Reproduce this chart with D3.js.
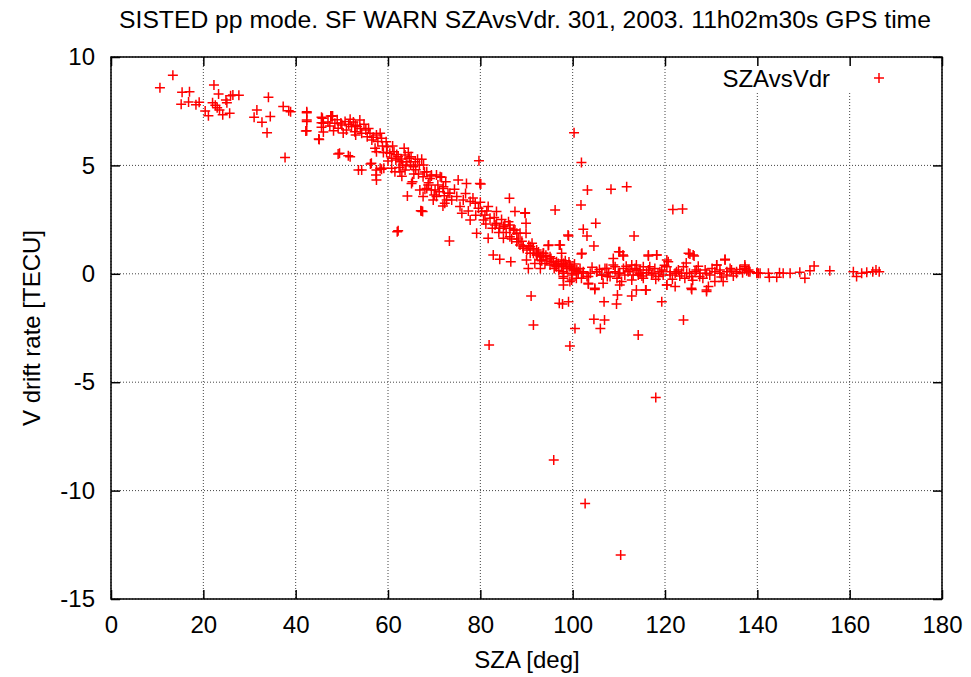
<!DOCTYPE html>
<html>
<head>
<meta charset="utf-8">
<script src="https://cdn.jsdelivr.net/npm/d3@7"></script>
<style>
  body { margin: 0; background: #fff; }
  text { font-family: "Liberation Sans", Arial, sans-serif; }
</style>
</head>
<body>
<div id="canvas"></div>
<script>
"use strict"

// Ticks on the axes
let xTicks = [0, 20, 40, 60, 80, 100, 120, 140, 160, 180];
let yTicks = [-15, -10, -5, 0, 5, 10];

// SZA [deg] vs V drift rate [TECU]
let szaVsVdr = [
    [10.6, 8.58], [13.4, 9.16], [15.4, 8.37], [17.0, 8.40], [15.2, 7.82], [16.8, 7.92],
    [18.4, 7.80], [19.1, 7.91], [20.4, 7.51], [21.1, 7.29], [22.3, 8.71], [23.3, 8.29],
    [22.0, 7.89], [22.6, 7.77], [23.0, 7.66], [23.5, 7.56], [24.2, 7.34], [25.7, 7.40],
    [24.9, 8.02], [25.1, 7.89], [25.9, 8.21], [26.4, 8.25], [27.7, 8.23], [34.1, 8.14],
    [31.6, 7.56], [31.0, 7.22], [32.7, 6.99], [34.5, 7.26], [33.8, 6.51], [37.3, 7.72],
    [38.5, 7.52], [38.9, 7.48], [37.7, 5.37],
    [42.4, 7.43], [42.4, 7.02], [42.2, 6.59], [45.1, 6.20], [45.8, 7.17], [46.0, 6.94],
    [46.0, 6.54], [47.8, 7.28], [47.4, 6.82], [48.5, 6.94], [49.2, 6.71], [50.0, 6.86],
    [50.7, 7.02], [51.0, 6.63], [51.8, 7.13], [52.1, 6.79], [52.8, 6.55], [53.9, 7.09],
    [53.3, 6.79], [54.3, 6.48], [55.2, 6.63], [55.5, 6.32], [56.1, 6.48], [56.5, 6.17],
    [57.5, 6.40], [58.3, 6.48], [58.6, 6.25], [57.2, 5.79], [57.5, 5.63], [49.5, 5.56],
    [51.8, 5.40], [53.6, 4.79], [54.3, 4.79], [56.2, 5.06], [57.5, 4.79], [57.4, 4.56],
    [57.5, 4.33], [58.3, 4.87], [59.1, 4.87], [59.6, 6.09], [59.8, 5.86], [59.7, 5.59],
    [60.4, 5.56], [60.8, 5.33], [61.3, 5.63], [61.7, 5.25], [62.2, 5.40], [62.6, 5.17],
    [63.5, 5.79], [63.7, 5.48], [63.2, 5.02], [64.1, 5.17], [64.6, 5.33], [64.9, 5.02],
    [65.5, 4.94], [65.9, 5.17], [66.4, 5.28], [66.8, 5.02], [67.3, 5.28], [67.7, 5.02],
    [60.8, 4.87], [61.5, 4.71], [62.6, 4.71], [63.7, 4.79], [65.3, 4.25], [64.2, 3.59],
    [67.3, 2.90], [62.0, 1.94], [68.4, 4.71], [69.1, 4.40], [69.4, 4.51], [70.5, 4.56],
    [71.6, 4.45], [66.9, 3.87], [68.0, 3.90], [68.7, 4.10], [69.4, 3.87], [67.6, 3.56],
    [70.0, 3.64], [70.5, 3.56], [71.1, 3.79], [71.9, 3.94], [72.5, 4.25], [71.9, 3.13],
    [72.7, 3.40], [73.0, 3.71],
    [42.4, 7.48], [42.4, 7.09], [42.4, 6.60], [45.0, 6.22], [45.6, 7.22], [45.6, 6.97],
    [45.6, 6.76], [47.6, 7.28], [49.2, 5.53], [51.4, 5.45], [48.0, 7.28],
    [56.4, 5.10], [58.6, 4.82], [65.1, 4.17], [67.1, 2.91], [62.2, 1.99],
    [47.0, 7.00], [48.2, 6.60], [49.0, 7.10], [50.3, 6.50], [51.5, 6.90], [52.5, 7.00],
    [53.0, 6.40], [54.0, 6.70], [54.8, 6.90], [55.8, 6.70], [56.8, 6.30], [57.8, 6.10],
    [58.8, 5.90], [49.8, 6.95], [52.9, 6.85],
    [59.0, 5.60], [60.0, 5.20], [61.0, 5.90], [61.9, 5.50], [62.9, 5.30], [63.9, 5.00],
    [64.4, 5.60], [65.0, 5.40], [66.0, 4.80], [66.6, 4.60], [67.9, 4.70], [65.6, 4.60],
    [62.4, 4.90], [63.0, 4.50],
    [67.6, 4.48], [69.4, 4.56], [71.3, 4.48], [68.4, 3.94], [70.2, 3.87], [72.0, 4.02],
    [73.4, 3.71], [69.8, 3.40], [72.3, 3.25], [67.5, 2.87], [75.2, 4.33], [77.0, 4.17],
    [79.9, 4.17], [74.9, 3.56], [76.3, 3.40], [77.8, 3.33], [76.0, 2.79], [77.8, 2.48],
    [78.9, 3.25], [79.6, 3.02], [80.3, 2.87], [81.0, 2.71], [80.7, 2.48], [81.7, 3.10],
    [82.1, 2.56], [83.5, 2.87], [83.2, 2.25], [84.2, 2.10], [85.3, 2.25], [86.1, 2.40],
    [86.4, 2.10], [87.2, 2.02], [87.9, 1.87], [86.3, 3.48], [87.5, 2.87], [89.7, 2.79],
    [89.9, 2.33], [89.9, 1.87], [85.0, 1.64], [86.4, 1.71], [87.9, 1.48], [88.6, 1.33],
    [89.3, 1.18], [90.1, 1.10], [91.2, 1.41], [91.5, 0.95], [92.3, 0.87], [93.0, 0.79],
    [93.7, 0.95], [94.8, 1.33], [94.4, 0.64], [95.5, 0.56], [96.2, 0.41], [96.9, 0.48],
    [97.6, 0.41], [97.3, 1.33], [99.0, 1.79], [98.7, 0.33], [99.8, 0.25], [100.9, 0.18],
    [102.3, 0.02], [103.1, -0.13], [98.0, -0.13], [99.8, -0.29], [82.8, 0.87], [84.2, 0.67],
    [86.6, 0.56], [90.4, 0.25], [93.0, 0.25], [81.7, 1.64], [79.2, 1.87], [73.3, 1.51],
    [79.7, 5.22], [80.1, 4.14], [83.5, 2.33], [85.0, 2.17], [86.4, 2.25], [87.5, 2.02],
    [88.6, 1.87], [90.8, 1.25], [92.2, 1.10], [93.6, 0.95], [95.1, 0.79], [96.5, 0.56],
    [98.0, 0.48], [99.4, 0.33],
    [68.8, 4.20], [70.8, 4.10], [72.2, 3.60], [73.8, 3.40], [74.4, 3.90], [75.6, 3.10],
    [76.8, 3.70], [77.4, 2.90], [78.4, 3.50], [79.0, 2.70], [80.0, 3.30], [81.2, 2.30],
    [82.6, 2.10], [81.4, 2.90], [84.0, 1.90], [85.6, 1.90], [86.8, 1.60], [88.2, 1.60],
    [83.0, 2.60], [84.6, 2.50],
    [89.0, 1.50], [90.5, 1.30], [91.5, 1.15], [92.6, 1.00], [93.3, 0.60], [94.2, 0.85],
    [95.3, 0.70], [96.0, 0.25], [97.0, 0.15], [98.4, 0.60], [99.2, 0.55], [100.4, 0.45],
    [100.3, 6.51], [101.9, 5.13], [103.2, 3.87], [108.3, 3.90], [111.7, 4.02], [101.8, 3.17],
    [96.2, 2.94], [89.7, 2.82], [121.7, 2.97], [123.8, 2.99], [105.0, 2.33], [102.3, 2.05],
    [103.1, 1.74], [99.1, 1.74], [104.6, 1.28], [113.3, 1.74], [97.1, 1.33], [94.7, 1.30],
    [101.9, 0.91], [110.0, 1.02], [111.0, 0.82], [116.4, 0.82], [118.2, 0.87], [120.7, 0.56],
    [125.4, 0.91], [126.3, 0.82], [133.0, 0.67], [131.2, 0.41], [102.0, 0.95],
    [91.0, -1.02], [97.1, -1.36], [97.8, -1.39], [99.1, -1.29], [91.5, -2.36], [100.5, -2.52],
    [99.4, -3.33], [104.6, -2.10], [106.9, -2.13], [106.0, -2.52], [106.8, -1.29],
    [109.5, -1.39], [109.7, -0.98], [112.8, -1.02], [114.2, -2.82], [119.3, -1.29],
    [124.0, -2.13], [113.8, -0.75], [115.8, -0.75], [104.8, -0.72], [98.0, -0.52],
    [103.4, -0.47], [110.2, -0.52], [120.4, -0.52], [125.8, -0.72], [129.0, -0.82],
    [129.4, -0.59], [132.6, -0.36], [81.9, -3.28], [118.0, -5.71], [95.9, -8.59],
    [102.7, -10.59], [110.4, -12.97],
    [97.6, 0.95], [97.6, 0.64], [98.7, 0.33], [98.0, 0.10], [98.0, -0.21], [99.4, 0.41],
    [99.8, 0.02], [100.5, 0.18], [99.4, -0.36], [101.2, 0.02], [101.9, -0.21], [102.3, 0.10],
    [103.4, -0.44], [103.8, 0.02], [104.8, -0.67], [105.2, 0.10], [106.3, -0.06],
    [106.6, -0.44], [107.4, 0.25], [108.1, -0.13], [108.8, 0.71], [109.2, 0.33], [109.9, 0.02],
    [110.2, 1.02], [110.6, -0.36], [111.3, -0.06], [110.9, 0.87], [112.4, 0.18], [112.8, -0.29],
    [113.8, 0.41], [114.2, -0.06], [114.6, 0.18], [115.3, -0.21], [115.9, -0.75], [116.4, 0.87],
    [116.7, 0.33], [117.4, 0.02], [118.2, 0.87], [118.6, -0.13], [119.3, 0.18], [120.4, 0.64],
    [120.4, -0.52], [121.1, -0.06], [122.2, -0.59], [122.5, 0.10], [123.6, 0.02],
    [124.3, -0.21], [125.1, 0.95], [126.1, 0.87], [125.3, 0.02], [125.7, -0.67], [126.8, 0.18],
    [127.5, -0.13], [129.0, -0.75], [129.0, 0.02], [130.8, -0.36], [131.2, 0.41], [131.9, 0.02],
    [133.0, 0.64], [133.4, 0.10], [134.4, 0.18], [135.5, 0.02], [137.3, 0.41], [138.1, 0.18],
    [139.9, 0.02],
    [101.2, 0.10], [102.3, 0.02], [103.4, -0.13], [105.2, 0.10], [106.3, -0.06], [107.0, 0.25],
    [107.5, -0.13], [108.8, 0.41], [109.2, 0.10], [110.2, 0.02], [111.0, 0.25], [112.0, 0.10],
    [112.8, 0.41], [113.1, -0.06], [113.9, 0.18], [114.6, 0.02], [115.3, 0.33], [116.4, 0.18],
    [117.1, -0.06], [117.8, 0.25], [118.9, 0.10], [119.6, -0.06], [120.4, 0.33], [121.1, 0.10],
    [122.2, 0.02], [122.9, 0.18], [124.0, 0.33], [124.7, 0.02], [125.8, -0.13], [126.5, 0.10],
    [127.6, 0.02], [128.7, 0.18], [129.7, -0.06], [130.8, 0.10], [131.9, 0.18], [133.4, -0.06],
    [134.1, 0.25], [135.5, 0.10], [137.3, 0.25], [138.4, 0.10], [140.2, 0.02],
    [100.8, -0.20], [101.6, 0.25], [104.2, 0.30], [105.8, 0.20], [107.8, 0.05], [109.6, -0.20],
    [111.6, 0.35], [113.5, 0.25], [115.0, -0.10], [116.0, 0.05], [118.0, -0.25], [119.9, 0.40],
    [121.6, -0.25], [123.2, -0.10], [124.6, 0.50], [126.0, -0.30], [127.2, 0.35], [128.2, -0.20],
    [130.2, 0.25], [132.2, -0.15], [134.8, -0.10], [136.2, 0.20],
    [89.3, 1.25], [90.8, 0.95], [92.2, 0.87], [92.9, 0.64], [94.0, 0.48], [95.1, 0.41],
    [96.5, 0.33], [97.6, 0.41], [98.7, 0.25], [90.0, 0.64], [91.8, 0.48], [93.6, 0.79],
    [95.8, 0.56], [100.1, 0.18], [98.0, 0.02], [99.8, -0.06],
    [137.3, 0.33], [137.7, 0.14], [136.8, 0.05], [138.1, 0.10], [139.9, 0.05], [140.6, 0.02],
    [142.4, 0.02], [142.6, -0.16], [144.2, -0.16], [144.8, 0.05], [145.6, 0.02], [147.1, 0.02],
    [149.2, 0.07], [150.3, -0.21], [151.4, 0.14], [152.3, 0.36], [155.7, 0.14], [160.8, 0.10],
    [161.5, -0.13], [162.6, 0.02], [163.7, 0.07], [165.0, 0.10], [165.7, 0.18], [166.4, 0.10]
];

let drawing = d3.select("#canvas")
    .append("svg")
    .attr("width", 971)
    .attr("height", 677);

// plot frame
let plotLeft = 111, plotRight = 942, plotTop = 57, plotBottom = 599;

let x = d3.scaleLinear().domain([0, 180]).range([plotLeft, plotRight]);
let y = d3.scaleLinear().domain([-15, 10]).range([plotBottom, plotTop]);

// dotted grid
let grid = drawing.append("g");
xTicks.forEach(function (t) {
    grid.append("line")
        .attr("x1", x(t)).attr("x2", x(t))
        .attr("y1", plotTop).attr("y2", plotBottom);
});
yTicks.forEach(function (t) {
    grid.append("line")
        .attr("x1", plotLeft).attr("x2", plotRight)
        .attr("y1", y(t)).attr("y2", y(t));
});
grid.selectAll("line")
    .attr("stroke", "#444")
    .attr("stroke-width", 1)
    .attr("stroke-dasharray", "1,2");

// the key clears the grid behind it
drawing.append("rect")
    .attr("x", 705)
    .attr("y", plotTop + 1)
    .attr("width", plotRight - 706)
    .attr("height", 35)
    .attr("fill", "white");

// axes, ticks pointing inward like gnuplot; plain hyphen for negatives
let plain = d => String(d);
let xAxis = drawing.append("g")
    .attr("transform", "translate(0," + plotBottom + ")")
    .call(d3.axisBottom(x).tickValues(xTicks).tickFormat(plain)
        .tickSizeInner(-9).tickSizeOuter(0).tickPadding(17));
let yAxis = drawing.append("g")
    .attr("transform", "translate(" + plotLeft + ",0)")
    .call(d3.axisLeft(y).tickValues(yTicks).tickFormat(plain)
        .tickSizeInner(-9).tickSizeOuter(0).tickPadding(16));
let xTop = drawing.append("g")
    .attr("transform", "translate(0," + plotTop + ")")
    .call(d3.axisTop(x).tickValues(xTicks).tickSizeInner(-9).tickSizeOuter(0).tickFormat(""));
let yRight = drawing.append("g")
    .attr("transform", "translate(" + plotRight + ",0)")
    .call(d3.axisRight(y).tickValues(yTicks).tickSizeInner(-9).tickSizeOuter(0).tickFormat(""));

[xAxis, yAxis, xTop, yRight].forEach(function (a) {
    a.select(".domain").remove();
    a.selectAll("line").attr("stroke", "black").attr("stroke-width", 1.5);
    a.selectAll("text")
        .attr("fill", "black")
        .style("font-size", "24px")
        .style("font-family", "'Liberation Sans', Arial, sans-serif");
});

// border
drawing.append("rect")
    .attr("x", plotLeft)
    .attr("y", plotTop)
    .attr("width", plotRight - plotLeft)
    .attr("height", plotBottom - plotTop)
    .attr("fill", "none")
    .attr("stroke", "black")
    .attr("stroke-width", 1.5);

// + markers
let plus = "M-5,0H5M0,-5V5";
drawing.append("g")
    .selectAll("path")
    .data(szaVsVdr)
    .join("path")
    .attr("transform", d => "translate(" + x(d[0]) + "," + y(d[1]) + ")")
    .attr("d", plus)
    .attr("stroke", "red")
    .attr("stroke-width", 1.5)
    .attr("fill", "none");

// key
drawing.append("text")
    .attr("x", 830)
    .attr("y", 87)
    .attr("text-anchor", "end")
    .style("font-size", "24px")
    .text("SZAvsVdr");
drawing.append("path")
    .attr("transform", "translate(879,78)")
    .attr("d", plus)
    .attr("stroke", "red")
    .attr("stroke-width", 1.5);

// title and axis labels
drawing.append("text")
    .attr("x", 525)
    .attr("y", 28)
    .attr("text-anchor", "middle")
    .style("font-size", "24.7px")
    .text("SISTED pp mode. SF WARN SZAvsVdr. 301, 2003. 11h02m30s GPS time");
drawing.append("text")
    .attr("x", 527)
    .attr("y", 668)
    .attr("text-anchor", "middle")
    .style("font-size", "24px")
    .text("SZA [deg]");
drawing.append("text")
    .attr("transform", "translate(40,328) rotate(-90)")
    .attr("text-anchor", "middle")
    .style("font-size", "24px")
    .text("V drift rate [TECU]");
</script>
</body>
</html>
